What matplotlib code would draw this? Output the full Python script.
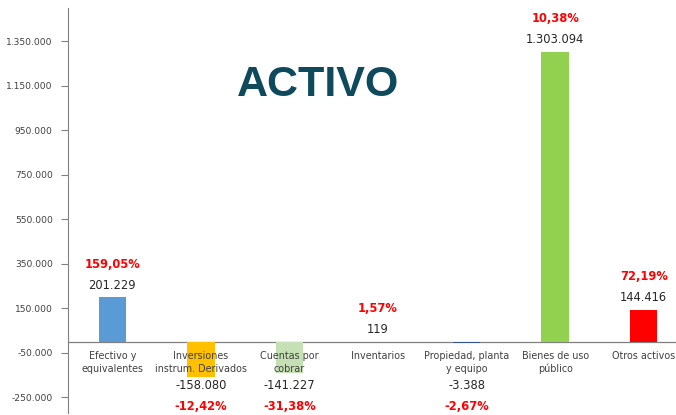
import matplotlib
matplotlib.use("Agg")
import matplotlib.pyplot as plt
from matplotlib.ticker import FuncFormatter

categories = ["Efectivo y\nequivalentes", "Inversiones\ninstrum. Derivados", "Cuentas por\ncobrar",
              "Inventarios", "Propiedad, planta\ny equipo", "Bienes de uso\npúblico", "Otros activos"]
values = [201229, -158080, -141227, 119, -3388, 1303094, 144416]
value_labels = ["201.229", "-158.080", "-141.227", "119", "-3.388", "1.303.094", "144.416"]
pct_labels = ["159,05%", "-12,42%", "-31,38%", "1,57%", "-2,67%", "10,38%", "72,19%"]
colors = ["#5B9BD5", "#FFC000", "#C5E0B4", "#A5A5A5", "#2F5597", "#92D050", "#FF0000"]
yticks = [-250000, -50000, 150000, 350000, 550000, 750000, 950000, 1150000, 1350000]

W, H = 676, 415
fig = plt.figure(figsize=(W / 100, H / 100), dpi=100)
ax = fig.add_axes([68 / W, 2 / H, (688 - 68) / W, (407 - 2) / H])

x = list(range(len(categories)))
ax.bar(x, values, width=0.31, color=colors, zorder=3)
ax.set_xlim(-0.5, len(categories) - 0.5)
ax.set_ylim(-320000, 1500000)
ax.set_yticks(yticks)
ax.yaxis.set_major_formatter(FuncFormatter(lambda v, p: f"{int(v):,}".replace(",", ".")))
ax.tick_params(axis="y", direction="out", length=5, width=0.8, color="#808080",
               labelsize=6.6, labelcolor="#404040", pad=6)
ax.set_xticks([])
for s in ["top", "right", "bottom"]:
    ax.spines[s].set_visible(False)
ax.spines["left"].set_color("#808080")
ax.spines["left"].set_linewidth(0.8)
ax.axhline(0, color="#808080", linewidth=0.9, zorder=2.5)

for i, (cat, v, vl, pl) in enumerate(zip(categories, values, value_labels, pct_labels)):
    ax.annotate(cat, xy=(i, 0), xytext=(0, -9), textcoords="offset pixels",
                ha="center", va="top", fontsize=6.9, color="#404040", linespacing=1.35)
    if v >= 0:
        ax.annotate(vl, xy=(i, v), xytext=(0, 12), textcoords="offset pixels",
                    ha="center", va="center", fontsize=8.3, color="#262626")
        ax.annotate(pl, xy=(i, v), xytext=(0, 33), textcoords="offset pixels",
                    ha="center", va="center", fontsize=8.3, color="#FF0000", fontweight="bold")
    else:
        ax.annotate(vl, xy=(i, 0), xytext=(0, -44), textcoords="offset pixels",
                    ha="center", va="center", fontsize=8.3, color="#262626")
        ax.annotate(pl, xy=(i, 0), xytext=(0, -65), textcoords="offset pixels",
                    ha="center", va="center", fontsize=8.3, color="#FF0000", fontweight="bold")

fig.text(318 / W, 1 - 85 / H, "ACTIVO", ha="center", va="center", fontsize=31,
         fontweight="bold", family="Liberation Sans", color="#0E4A5C")

fig.savefig("out.png", dpi=100)
